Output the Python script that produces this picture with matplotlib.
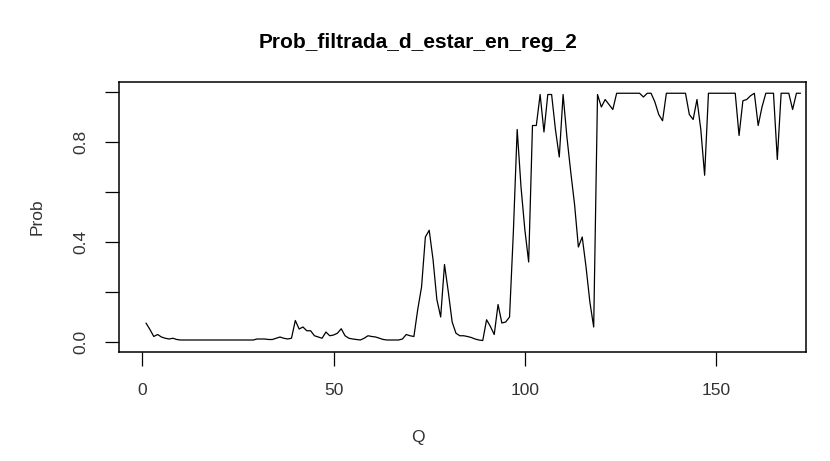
import matplotlib
matplotlib.use("Agg")
import matplotlib.pyplot as plt
import numpy as np

title = "Prob_filtrada_d_estar_en_reg_2"
xlabel = "Q"
ylabel = "Prob"

prob = [
    0.075, 0.05, 0.022, 0.03, 0.02, 0.015, 0.012, 0.015, 0.01, 0.008,
    0.008, 0.008, 0.008, 0.008, 0.008, 0.008, 0.008, 0.008, 0.008, 0.008,
    0.008, 0.008, 0.008, 0.008, 0.008, 0.008, 0.008, 0.008, 0.008, 0.012,
    0.012, 0.012, 0.01, 0.01, 0.015, 0.02, 0.015, 0.012, 0.015, 0.086,
    0.052, 0.06, 0.045, 0.045, 0.025, 0.02, 0.015, 0.04, 0.025, 0.028,
    0.035, 0.053, 0.025, 0.015, 0.012, 0.01, 0.008, 0.015, 0.025, 0.022,
    0.02, 0.015, 0.01, 0.008, 0.008, 0.008, 0.008, 0.012, 0.03, 0.025,
    0.022, 0.13, 0.22, 0.42, 0.447, 0.33, 0.17, 0.1, 0.31, 0.2,
    0.08, 0.035, 0.025, 0.025, 0.022, 0.018, 0.012, 0.008, 0.006, 0.089,
    0.062, 0.03, 0.15, 0.076, 0.08, 0.1, 0.44, 0.85, 0.62, 0.45,
    0.32, 0.866, 0.866, 0.99, 0.84, 0.99, 0.99, 0.85, 0.74, 0.99,
    0.82, 0.68, 0.55, 0.38, 0.42, 0.3, 0.16, 0.06, 0.99, 0.94,
    0.97, 0.95, 0.93, 0.995, 0.995, 0.995, 0.995, 0.995, 0.995, 0.995,
    0.98, 0.995, 0.995, 0.96, 0.91, 0.885, 0.995, 0.995, 0.995, 0.995,
    0.995, 0.995, 0.91, 0.89, 0.97, 0.85, 0.667, 0.995, 0.995, 0.995,
    0.995, 0.995, 0.995, 0.995, 0.995, 0.826, 0.965, 0.97, 0.985, 0.995,
    0.866, 0.94, 0.995, 0.995, 0.995, 0.73, 0.995, 0.995, 0.995, 0.93,
    0.995, 0.995,
]
q = np.arange(1, len(prob) + 1)

xticks = [0, 50, 100, 150]
yticks = [0.0, 0.2, 0.4, 0.6, 0.8, 1.0]
ytick_labels = ["0.0", "", "0.4", "", "0.8", ""]

plt.rcParams['font.family'] = ['Liberation Sans', 'DejaVu Sans']

W, H = 830, 461
fig = plt.figure(figsize=(W / 100, H / 100), dpi=100)
left, right, top, bottom = 119, 806, 82, 352
ax = fig.add_axes([left / W, 1 - bottom / H, (right - left) / W, (bottom - top) / H])

ax.plot(q, prob, color="black", lw=0.9)
ax.set_xlim(-6.09, 173.5)
ax.set_ylim(-0.04, 1.04)
ax.set_xticks(xticks)
ax.set_xticklabels([str(t) for t in xticks])
ax.set_yticks(yticks)
ax.set_yticklabels(ytick_labels, rotation=90, va="center")
ax.tick_params(axis="both", direction="out", length=10, width=0.9,
               labelsize=12.5, labelcolor="#333333", pad=12)
for s in ax.spines.values():
    s.set_linewidth(1.1)

fig.text(418 / W, 1 - 42 / H, title, ha="center", va="center",
         fontsize=15, fontweight="bold")
fig.text(418 / W, 1 - 437 / H, xlabel, ha="center", va="center",
         fontsize=12.5, color="#333333")
fig.text(37 / W, 1 - 217 / H, ylabel, ha="center", va="center",
         fontsize=12.5, color="#333333", rotation=90)

fig.savefig("out.png", dpi=100)
